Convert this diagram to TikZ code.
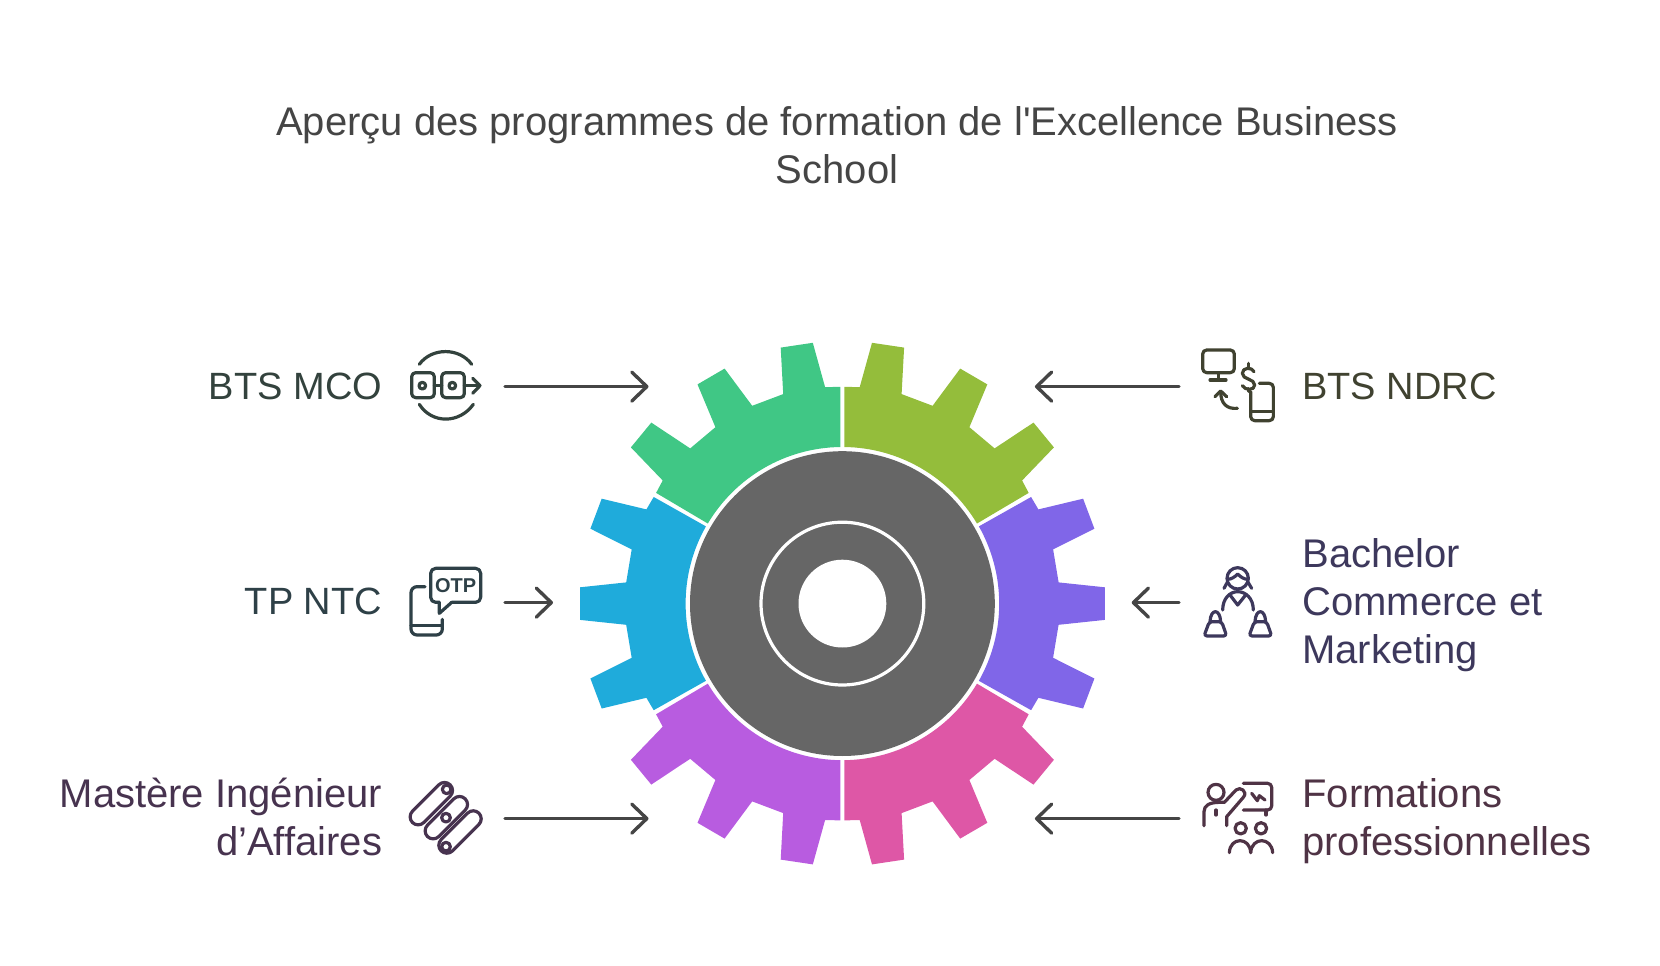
\documentclass[tikz,border=0pt]{standalone}
\usepackage{fontspec}
\setmainfont{Liberation Sans}
\usetikzlibrary{arrows.meta}
\definecolor{sectorgreen}{rgb}{0.25,0.78,0.52}
\definecolor{sectorlime}{rgb}{0.58,0.74,0.23}
\definecolor{sectorviolet}{rgb}{0.50,0.40,0.91}
\definecolor{sectorblue}{rgb}{0.12,0.67,0.86}
\definecolor{sectorpurple}{rgb}{0.72,0.36,0.88}
\definecolor{sectorpink}{rgb}{0.87,0.34,0.65}
\definecolor{hubgray}{rgb}{0.40,0.40,0.40}
\definecolor{arrowgray}{rgb}{0.27,0.27,0.27}
\definecolor{titlegray}{rgb}{0.27,0.27,0.27}
\definecolor{inkmco}{rgb}{0.20,0.26,0.24}
\definecolor{inkntc}{rgb}{0.18,0.25,0.28}
\definecolor{inkndrc}{rgb}{0.25,0.26,0.19}
\definecolor{inkbachelor}{rgb}{0.24,0.22,0.36}
\definecolor{inkmastere}{rgb}{0.28,0.20,0.31}
\definecolor{inkformation}{rgb}{0.31,0.20,0.27}
\tikzset{
  label/.style={font=\fontsize{20}{24}\selectfont,inner sep=0pt},
  capslabel/.style={font=\fontsize{19}{24}\selectfont,inner sep=0pt},
  flow/.style={-{Straight Barb[length=7.5pt,width=14.5pt,round]},line width=1.7pt,color=arrowgray},
  icon/.style={line width=1.6pt,x=0.16667pt,y=-0.16667pt}
}
\def\topsector{(-2,216.8) -- (-17.3,216.4) -- (-29.6,260.8) -- (-61.7,256) -- (-59.2,209.5) -- (-90.2,197.8) -- (-117.8,235) -- (-144.9,219.2) -- (-127,176.4) -- (-152.2,155.2) -- (-191.1,181) -- (-211.5,156.2) -- (-179.7,123.1) -- (-186.3,110.7) -- (149.25:156.6) arc[start angle=149.25,end angle=90.73,radius=156.6] -- cycle}
\def\sidesector{(-188.7,106.6) -- (-196,94.2) -- (-240.7,104.9) -- (-252,74.9) -- (-210.7,54.2) -- (-216.2,21.2) -- (-262.4,16.3) -- (-262.4,-16.3) -- (-216.2,-21.2) -- (-210.7,-54.2) -- (-252,-74.9) -- (-240.7,-104.9) -- (-196,-94.2) -- (-188.7,-106.6) -- (209.5:156.8) arc[start angle=209.5,end angle=150.5,radius=156.8] -- cycle}
\begin{document}
\begin{tikzpicture}[line cap=round,line join=round,x=0.5pt,y=0.5pt]
    \useasboundingbox (0,0) rectangle (1660,965);

    \begin{scope}[shift={(842.4,361.4)}]
    \fill[sectorgreen] \topsector;
    \fill[sectorlime,xscale=-1] \topsector;
    \fill[sectorpurple,yscale=-1] \topsector;
    \fill[sectorpink,scale=-1] \topsector;
    \fill[sectorblue] \sidesector;
    \fill[sectorviolet,xscale=-1] \sidesector;
    \fill[hubgray] (0,0) circle (152.4);
    \draw[white,line width=1.6pt] (0,0) circle (81.4);
    \fill[white] (0,0) circle (43.9);
    \end{scope}

    \draw (837,820) node[label,align=center,color=titlegray] (title) {Aperçu des programmes de formation de l\textquotesingle Excellence Business\\School};

    \draw (382.5,579) node[capslabel,anchor=east,color=inkmco] (btsmco) {BTS MCO};
    \draw (382.5,363.5) node[capslabel,anchor=east,color=inkntc] (tpntc) {TP NTC};
    \draw (382.5,148) node[label,anchor=east,align=right,color=inkmastere] (mastere) {Mastère Ingénieur\\d’Affaires};
    \draw (1302,579) node[capslabel,anchor=west,color=inkndrc] (btsndrc) {BTS NDRC};
    \draw (1302,359.8) node[label,anchor=west,align=left,color=inkbachelor] (bachelor) {Bachelor\\Commerce et\\Marketing};
    \draw (1302,144) node[label,anchor=west,align=left,color=inkformation] (formations) {Formations\\professionnelles};

    \coordinate (mcostart) at (505,578.4);
    \coordinate (mcoend) at (648.5,578.4);
    \coordinate (ntcstart) at (505,362.4);
    \coordinate (ntcend) at (553,362.4);
    \coordinate (masterestart) at (505,146.4);
    \coordinate (mastereend) at (648.5,146.4);
    \coordinate (ndrcstart) at (1179,578.4);
    \coordinate (ndrcend) at (1034.9,578.4);
    \coordinate (bachelorstart) at (1179,362.4);
    \coordinate (bachelorend) at (1131.7,362.4);
    \coordinate (formationsstart) at (1179,146.4);
    \coordinate (formationsend) at (1034.9,146.4);

    \draw[flow] (mcostart) -- (mcoend);
    \draw[flow] (ntcstart) -- (ntcend);
    \draw[flow] (masterestart) -- (mastereend);
    \draw[flow] (ndrcstart) -- (ndrcend);
    \draw[flow] (bachelorstart) -- (bachelorend);
    \draw[flow] (formationsstart) -- (formationsend);

    % BTS MCO, TP NTC
    \begin{scope}[shift={(390,635)},icon]
    \draw[inkmco] (88,103) .. controls (125,52) and (208,52) .. (245,103);
    \draw[inkmco] (88,223) .. controls (125,282) and (208,282) .. (250,223);
    \draw[inkmco,rounded corners=2pt] (65,128) rectangle (133,203);
    \draw[inkmco,rounded corners=2pt] (155,128) rectangle (223,203);
    \draw[inkmco] (97,167) circle (10);
    \draw[inkmco] (187,167) circle (10);
    \draw[inkmco] (133,167) -- (155,167);
    \draw[inkmco] (223,167) -- (270,167);
    \draw[inkmco] (248,145) -- (270,167) -- (248,190);

    \draw[inkntc,rounded corners=2.5pt] (148,817) -- (122,817) -- (122,715) -- (272,715) -- (272,817) -- (185,817);
    \draw[inkntc] (185,817) -- (148,850) -- (148,817);
    \draw[inkntc,rounded corners=3pt] (105,770) -- (63,770) -- (63,915) -- (157,915) -- (157,868);
    \draw[inkntc] (63,887) -- (157,887);
    \draw (197,766) node[text=inkntc,font=\fontsize{10}{10}\bfseries\selectfont] (otp) {OTP};
    \end{scope}

    % BTS NDRC, Bachelor
    \begin{scope}[shift={(1180,635)},icon]
    \draw[inkndrc,rounded corners=2pt] (68,60) rectangle (163,128);
    \draw[inkndrc] (115,128) -- (115,150);
    \draw[inkndrc] (90,150) -- (138,150);
    \draw[inkndrc] (222,125) .. controls (215,110) and (187,112) .. (187,130) .. controls (187,150) and (224,145) .. (224,165) .. controls (224,182) and (195,182) .. (187,167);
    \draw[inkndrc] (205,100) -- (205,114);
    \draw[inkndrc] (205,176) -- (205,184);
    \draw[inkndrc,rounded corners=2pt] (238,160) -- (280,160) -- (280,272) -- (212,272) -- (212,185);
    \draw[inkndrc] (212,245) -- (280,245);
    \draw[inkndrc] (172,235) .. controls (140,238) and (122,220) .. (122,185);
    \draw[inkndrc] (105,200) -- (122,183) -- (140,200);

    \draw[inkbachelor] (173,745) circle (32);
    \draw[inkbachelor] (142,748) .. controls (155,748) and (165,740) .. (173,732) .. controls (181,740) and (191,748) .. (204,748);
    \draw[inkbachelor] (143,755) -- (132,775);
    \draw[inkbachelor] (203,755) -- (215,775);
    \draw[inkbachelor] (128,840) .. controls (128,805) and (150,785) .. (173,785) .. controls (197,785) and (220,805) .. (220,840);
    \draw[inkbachelor] (150,795) -- (173,825) -- (197,795);
    \draw[inkbachelor,rounded corners=1.5pt] (72,918) -- (88,875) -- (125,875) -- (140,918) -- cycle;
    \draw[inkbachelor] (90,875) .. controls (92,835) and (120,835) .. (122,875);
    \draw[inkbachelor,rounded corners=1.5pt] (207,918) -- (223,875) -- (260,875) -- (275,918) -- cycle;
    \draw[inkbachelor] (225,875) .. controls (227,835) and (255,835) .. (257,875);
    \end{scope}

    % Mastere
    \begin{scope}[shift={(390,205)},icon]
    \draw[inkmastere,rounded corners=4pt,rotate around={45:(124,131)}] (44,107) rectangle (204,155);
    \draw[inkmastere,rounded corners=4pt,rotate around={45:(169,173)}] (89,149) rectangle (249,197);
    \draw[inkmastere,rounded corners=4pt,rotate around={45:(210,216)}] (130,192) rectangle (290,240);
    \draw[inkmastere,fill=white] (170,88) circle (13);
    \draw[inkmastere,fill=white] (168,173) circle (13);
    \draw[inkmastere,fill=white] (168,260) circle (13);
    \end{scope}

    % Formations
    \begin{scope}[shift={(1180,205)},icon]
    \draw[inkformation] (108,97) circle (24);
    \draw[inkformation,rounded corners=2pt] (190,70) -- (275,70) -- (275,150) -- (190,150);
    \draw[inkformation] (258,150) -- (258,165);
    \draw[inkformation] (215,100) -- (232,122) -- (238,107) -- (255,120);
    \draw[inkformation] (72,197) -- (72,155) .. controls (72,135) and (90,127) .. (120,127) -- (133,127) -- (168,90) .. controls (180,78) and (205,95) .. (190,112) -- (140,170) -- (140,197);
    \draw[inkformation] (108,150) -- (108,165);
    \draw[inkformation] (182,205) circle (17);
    \draw[inkformation] (243,205) circle (17);
    \draw[inkformation] (148,278) .. controls (150,230) and (210,230) .. (212,278);
    \draw[inkformation] (212,278) .. controls (215,230) and (275,230) .. (278,278);
    \end{scope}
\end{tikzpicture}
\end{document}
